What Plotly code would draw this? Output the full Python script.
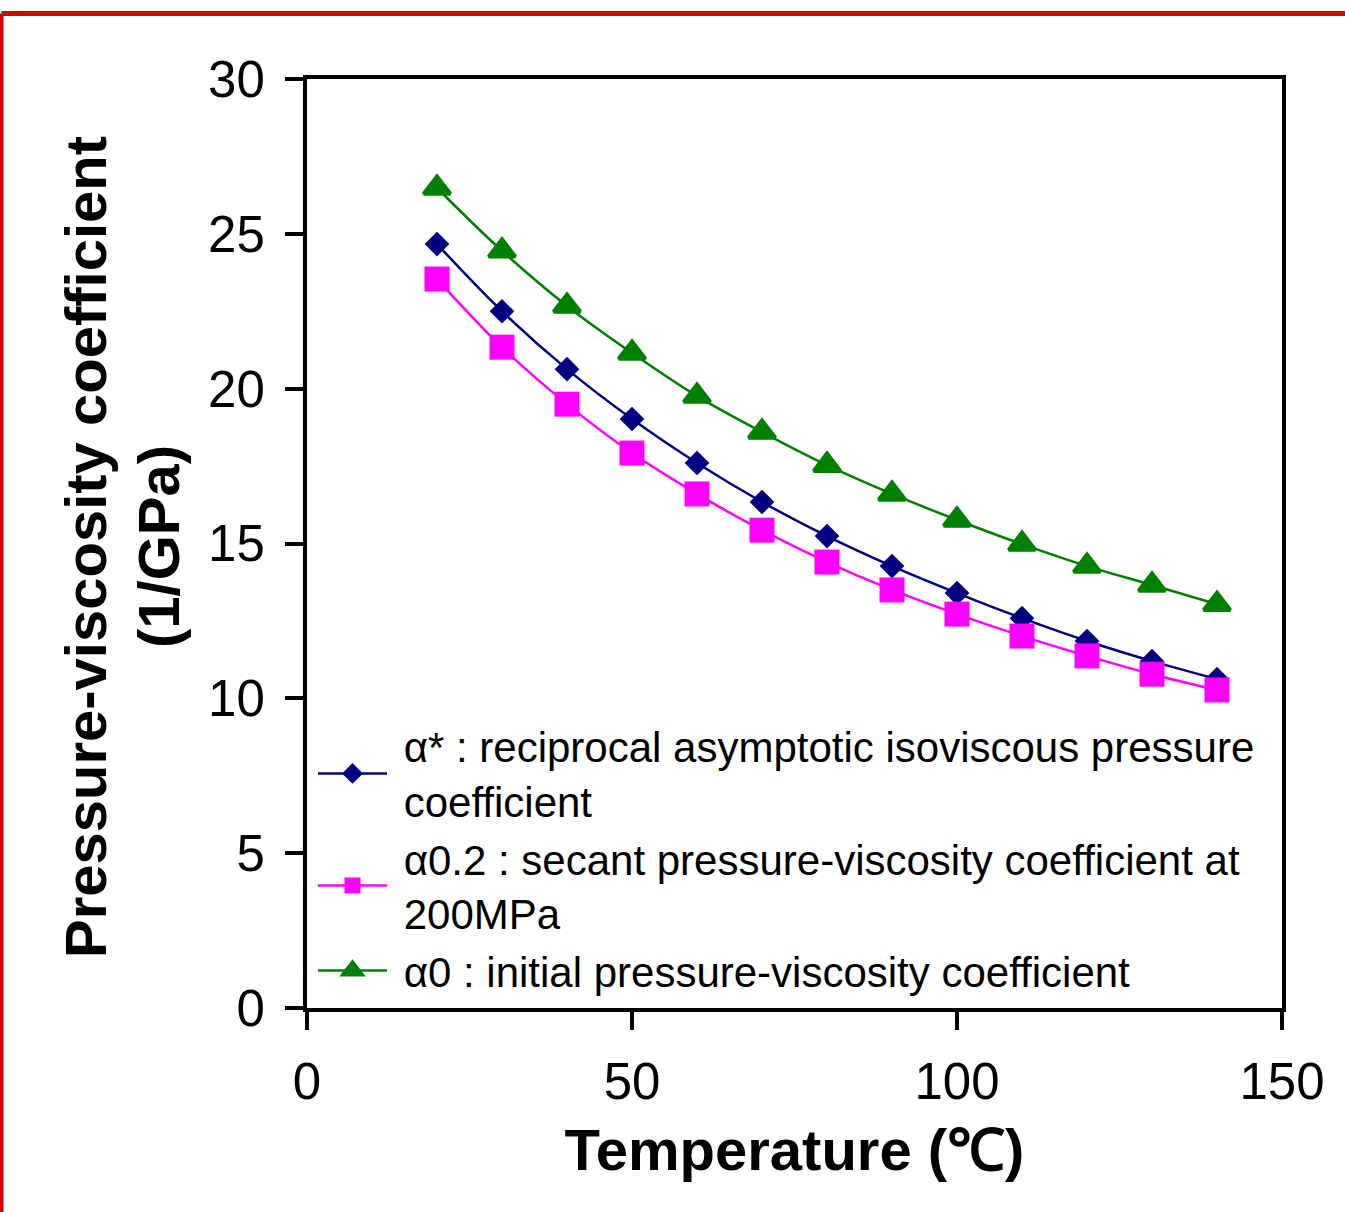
import plotly.graph_objects as go

temperature = [20, 30, 40, 50, 60, 70, 80, 90, 100, 110, 120, 130, 140]
alpha_star = [24.67, 22.5, 20.63, 19.02, 17.6, 16.34, 15.24, 14.27, 13.4, 12.59, 11.85, 11.2, 10.62]
alpha_02 = [23.54, 21.34, 19.5, 17.92, 16.6, 15.43, 14.4, 13.5, 12.72, 12.01, 11.37, 10.78, 10.27]
alpha_0 = [26.48, 24.45, 22.67, 21.15, 19.76, 18.6, 17.53, 16.6, 15.76, 14.98, 14.27, 13.66, 13.04]

NB = "\u00a0"
names = [
    NB + "α* : reciprocal asymptotic isoviscous pressure<br>" + NB + "coefficient",
    NB + "α0.2 : secant pressure-viscosity coefficient at<br>" + NB + "200MPa",
    NB + "α0 : initial pressure-viscosity coefficient",
]
x_ticks = [0, 50, 100, 150]
y_ticks = [0, 5, 10, 15, 20, 25, 30]
y_title_lines = ["<b>Pressure-viscosity coefficient</b>", "<b>(1/GPa)</b>"]

FONT = "Liberation Sans, Arial, sans-serif"

fig = go.Figure()
fig.add_trace(go.Scatter(
    x=temperature, y=alpha_star, name=names[0], mode="lines+markers",
    line=dict(color="#000080", width=2.5, shape="spline"),
    marker=dict(symbol="diamond", size=19, color="#000080"),
))
fig.add_trace(go.Scatter(
    x=temperature, y=alpha_02, name=names[1], mode="lines+markers",
    line=dict(color="#FF00FF", width=2.5, shape="spline"),
    marker=dict(symbol="square", size=25, color="#FF00FF"),
))
fig.add_trace(go.Scatter(
    x=temperature, y=alpha_0, name=names[2], mode="lines+markers",
    line=dict(color="#008000", width=2.5, shape="spline"),
    marker=dict(symbol="triangle-up", size=23, color="#008000",
                line=dict(color="#008000", width=4)),
))

L, R, T, B = 307, 63, 79, 204
W, H = 1345, 1212
pw = W - L - R
ph = H - T - B

def px_x(p):
    return (p - L) / pw

def px_y(p):
    return (H - B - p) / ph

fig.update_layout(
    width=W, height=H,
    margin=dict(l=L, r=R, t=T, b=B, pad=0),
    paper_bgcolor="white", plot_bgcolor="white",
    font=dict(family=FONT, color="black", size=38),
    showlegend=True,
    legend=dict(
        x=px_x(313), y=0.004, xanchor="left", yanchor="bottom",
        bgcolor="rgba(0,0,0,0)", borderwidth=0,
        font=dict(size=42, family=FONT, color="black"),
        itemwidth=69, tracegroupgap=0,
    ),
    xaxis=dict(
        range=[0, 150], tickvals=x_ticks, ticktext=[str(v) for v in x_ticks],
        showgrid=False, zeroline=False,
        showline=True, linecolor="black", linewidth=4, mirror=True,
        ticks="outside", ticklen=18, tickwidth=4, tickcolor="black",
        tickfont=dict(size=51, family=FONT), ticklabelstandoff=8,
        title=dict(text="<b>Temperature (℃)</b>", font=dict(size=58, family=FONT), standoff=21),
    ),
    yaxis=dict(
        range=[0, 30], tickvals=y_ticks, ticktext=[str(v) for v in y_ticks],
        showgrid=False, zeroline=False,
        showline=True, linecolor="black", linewidth=4, mirror=True,
        ticks="outside", ticklen=18, tickwidth=4, tickcolor="black",
        tickfont=dict(size=51, family=FONT), ticklabelstandoff=10,
    ),
)

for cx, txt in zip([85, 158], y_title_lines):
    fig.add_annotation(
        text=txt, xref="paper", yref="paper", x=px_x(cx), y=px_y(547),
        xanchor="center", yanchor="middle", textangle=-90, showarrow=False,
        font=dict(size=58, family=FONT, color="black"),
    )

# red frame lines (top and left) of the figure
x_left = px_x(1.5)
y_top = px_y(13.5)
fig.add_shape(type="line", xref="paper", yref="paper", x0=x_left, x1=px_x(W + 5), y0=y_top, y1=y_top,
              line=dict(color="#D40000", width=5), layer="above")
fig.add_shape(type="line", xref="paper", yref="paper", x0=x_left, x1=x_left, y0=y_top, y1=px_y(H + 5),
              line=dict(color="#D40000", width=4), layer="above")

fig.write_html(
    "out.html",
    config={"displayModeBar": False},
    post_script="document.body.style.margin='0';document.body.style.overflow='hidden';",
)
